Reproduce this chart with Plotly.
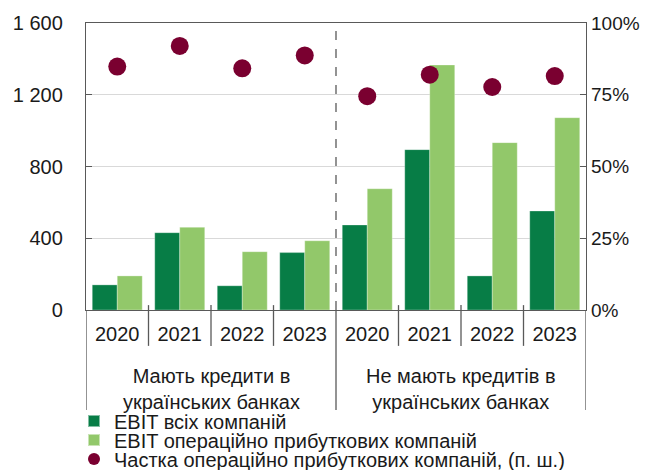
import plotly.graph_objects as go

# ---- data ----
groups = ["Мають кредити в<br>українських банках", "Не мають кредитів в<br>українських банках"]
years = ["2020", "2021", "2022", "2023"]
ebit_all_with = [140, 431, 135, 320]
ebit_prof_with = [190, 461, 325, 386]
ebit_all_without = [474, 894, 190, 552]
ebit_prof_without = [676, 1366, 933, 1072]
share_with = [0.848, 0.92, 0.842, 0.887]
share_without = [0.745, 0.82, 0.777, 0.815]

series_names = ["EBIT всіх компаній", "EBIT операційно прибуткових компаній",
                "Частка операційно прибуткових компаній, (п. ш.)"]

# ---- build ----
cats = [f"g{gi}_{y}" for gi in range(len(groups)) for y in years]
tick_text = years * len(groups)
ebit_all = ebit_all_with + ebit_all_without
ebit_prof = ebit_prof_with + ebit_prof_without
share = share_with + share_without

DARK = "#077D46"
LIGHT = "#92C86A"
MAROON = "#7A0030"
AX = "#595959"
TXT = "#1a1a1a"
FONT = "Liberation Sans, Arial, sans-serif"
FS = 20

fig = go.Figure()
fig.add_trace(go.Bar(x=cats, y=ebit_all, name=series_names[0], marker_color=DARK,
                     marker_line=dict(color="rgba(255,255,255,0.5)", width=0.6), legend="legend"))
fig.add_trace(go.Bar(x=cats, y=ebit_prof, name=series_names[1], marker_color=LIGHT,
                     marker_line=dict(color="rgba(255,255,255,0.5)", width=0.6), legend="legend2"))
fig.add_trace(go.Scatter(x=cats, y=share, name=series_names[2], mode="markers", yaxis="y2",
                         marker=dict(color=MAROON, size=18), legend="legend3"))

shapes = []
# dashed separator inside plot
shapes.append(dict(type="line", xref="x", yref="paper", x0=3.5, x1=3.5, y0=0, y1=1,
                   line=dict(color=AX, width=1.3, dash="dash")))
# dividers below axis
for xv in [0.5, 1.5, 2.5, 4.5, 5.5, 6.5]:
    shapes.append(dict(type="line", xref="x", yref="paper", x0=xv, x1=xv, y0=0.017, y1=-0.125,
                       line=dict(color=AX, width=1.3)))
for xv in [-0.5, 3.5, 7.5]:
    shapes.append(dict(type="line", xref="x", yref="paper", x0=xv, x1=xv, y0=0, y1=-0.348,
                       line=dict(color=AX, width=1.3)))

annotations = []
for gi, g in enumerate(groups):
    annotations.append(dict(text=g, xref="x", yref="paper", x=gi * 4 + 1.5, y=-0.276,
                            xanchor="center", yanchor="middle", showarrow=False,
                            font=dict(family=FONT, size=FS, color=TXT)))

leg_common = dict(yref="container", xref="paper", x=-0.024, xanchor="left", yanchor="middle",
                  font=dict(family=FONT, size=FS, color=TXT), bgcolor="rgba(0,0,0,0)",
                  itemwidth=30, orientation="v", itemsizing="constant")

fig.update_layout(
    width=649, height=470,
    margin=dict(l=78, r=71, t=15, b=168, autoexpand=False),
    paper_bgcolor="white", plot_bgcolor="white",
    font=dict(family=FONT, size=FS, color=TXT),
    separators=", ",
    barmode="group", bargap=0.2, bargroupgap=0,
    showlegend=True,
    legend=dict(y=1 - 413 / 470, **leg_common),
    legend2=dict(y=1 - 432 / 470, **leg_common),
    legend3=dict(y=1 - 451 / 470, **leg_common),
    xaxis=dict(type="category", categoryorder="array", categoryarray=cats,
               tickvals=cats, ticktext=tick_text, ticks="", showline=True, linecolor=AX,
               linewidth=1.3, mirror=True, showgrid=False, ticklabelstandoff=6, automargin=False,
               tickfont=dict(family=FONT, size=FS, color=TXT), range=[-0.5, 7.5]),
    yaxis=dict(range=[0, 1600], dtick=400, tickformat=",d", showgrid=True, gridcolor="#D9D9D9",
               gridwidth=1, zeroline=False, showline=True, linecolor=AX, linewidth=1.3,
               mirror=True, ticks="inside", ticklen=6, tickcolor=AX, ticklabelstandoff=18,
               automargin=False, tickfont=dict(family=FONT, size=FS, color=TXT)),
    yaxis2=dict(range=[0, 1], dtick=0.25, tickformat=".0%", overlaying="y", side="right",
                showgrid=False, zeroline=False, ticks="inside", ticklen=6, tickcolor=AX,
                showline=False, ticklabelstandoff=4, automargin=False,
                tickfont=dict(family=FONT, size=FS - 1, color=TXT)),
    shapes=shapes,
    annotations=annotations,
)

fig.write_html("out.html")
